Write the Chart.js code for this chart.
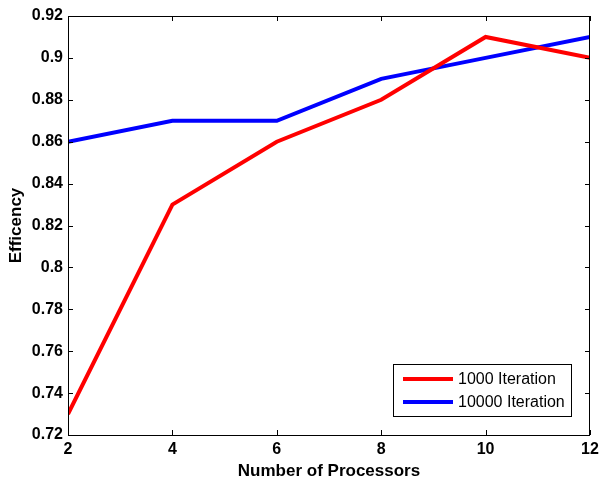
<!DOCTYPE html>
<html>
<head>
<meta charset="utf-8">
<script src="https://cdn.jsdelivr.net/npm/chart.js@4"></script>
<style>
  html, body { margin: 0; padding: 0; background: #fff; }
  #wrap { width: 601px; height: 479px; }
</style>
</head>
<body>
<div id="wrap"><canvas id="c" width="601" height="479"></canvas></div>
<script>
// datos
const processors = [2, 4, 6, 8, 10, 12];
const iter1000 = [0.73, 0.83, 0.86, 0.88, 0.91, 0.90];
const iter10000 = [0.86, 0.87, 0.87, 0.89, 0.90, 0.91];
const xTicks = [2, 4, 6, 8, 10, 12];
const yTicks = [0.72, 0.74, 0.76, 0.78, 0.8, 0.82, 0.84, 0.86, 0.88, 0.9, 0.92];

const FAM = '"Liberation Sans", Arial, sans-serif';

// caja + ticks hacia adentro estilo matlab
const boxPlugin = {
  id: 'box',
  afterDatasetsDraw(chart) {
    const { ctx, chartArea: a, scales } = chart;
    ctx.save();
    ctx.strokeStyle = '#000';
    ctx.lineWidth = 1;
    ctx.strokeRect(a.left + 0.5, a.top + 0.5, a.right - a.left - 1, a.bottom - a.top);
    const len = 5;
    ctx.beginPath();
    xTicks.forEach((v) => {
      const x = Math.round(scales.x.getPixelForValue(v)) + 0.5;
      ctx.moveTo(x, a.bottom); ctx.lineTo(x, a.bottom - len);
      ctx.moveTo(x, a.top); ctx.lineTo(x, a.top + len);
    });
    yTicks.forEach((v) => {
      const y = Math.round(scales.y.getPixelForValue(v)) + 0.5;
      ctx.moveTo(a.left, y); ctx.lineTo(a.left + len, y);
      ctx.moveTo(a.right, y); ctx.lineTo(a.right - len, y);
    });
    ctx.stroke();

    // leyenda dentro del area
    const bx = 393, by = 364, bw = 178, bh = 52;
    ctx.fillStyle = '#fff';
    ctx.fillRect(bx, by, bw, bh);
    ctx.strokeRect(bx + 0.5, by + 0.5, bw, bh);
    ctx.font = '16px ' + FAM;
    ctx.textBaseline = 'middle';
    chart.data.datasets.forEach((ds, i) => {
      const y = by + 15 + i * 23;
      ctx.strokeStyle = ds.borderColor;
      ctx.lineWidth = 4;
      ctx.beginPath();
      ctx.moveTo(403, y); ctx.lineTo(453, y);
      ctx.stroke();
      ctx.fillStyle = '#000';
      ctx.fillText(ds.label, 458, y + 1);
    });
    ctx.restore();
  },
};

const tickFont = { family: FAM, size: 16, weight: 'bold' };
const titleFont = { family: FAM, size: 17, weight: 'bold' };

new Chart(document.getElementById('c'), {
  type: 'line',
  data: {
    datasets: [
      {
        label: '1000 Iteration',
        data: processors.map((p, i) => ({ x: p, y: iter1000[i] })),
        borderColor: '#ff0000',
        borderWidth: 4,
        pointRadius: 0,
        tension: 0,
      },
      {
        label: '10000 Iteration',
        data: processors.map((p, i) => ({ x: p, y: iter10000[i] })),
        borderColor: '#0000ff',
        borderWidth: 4,
        pointRadius: 0,
        tension: 0,
      },
    ],
  },
  options: {
    responsive: false,
    animation: false,
    layout: { padding: { top: 16, right: 11, left: 0, bottom: 0 } },
    plugins: { legend: { display: false }, tooltip: { enabled: false } },
    scales: {
      x: {
        type: 'linear',
        min: 2,
        max: 12,
        afterBuildTicks(scale) { scale.ticks = xTicks.map((v) => ({ value: v })); },
        afterFit(scale) {
          scale.height = 44;
          scale.paddingLeft = 0;
          scale.paddingRight = 0;
        },
        grid: { display: false, drawTicks: false },
        border: { display: false },
        ticks: { color: '#000', font: tickFont, padding: 5, maxRotation: 0 },
        title: { display: true, text: 'Number of Processors', color: '#000', font: titleFont, padding: { top: 0, bottom: -3 } },
      },
      y: {
        type: 'linear',
        min: 0.72,
        max: 0.92,
        afterBuildTicks(scale) { scale.ticks = yTicks.map((v) => ({ value: v })); },
        afterFit(scale) {
          scale.width = 68;
          scale.paddingTop = 0;
          scale.paddingBottom = 0;
        },
        grid: { display: false, drawTicks: false },
        border: { display: false },
        ticks: { color: '#000', font: tickFont, padding: 5, callback: (v) => String(+v.toFixed(2)) },
        title: { display: true, text: 'Efficency', color: '#000', font: titleFont, padding: { top: 6, bottom: 0 } },
      },
    },
  },
  plugins: [boxPlugin],
});
</script>
</body>
</html>
